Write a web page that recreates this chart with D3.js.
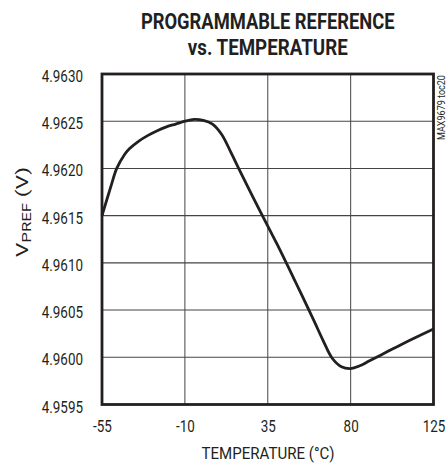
<!DOCTYPE html>
<html>
<head>
<meta charset="utf-8">
<script src="https://cdn.jsdelivr.net/npm/d3@7"></script>
<style>
  html, body { margin: 0; padding: 0; background: #fff; }
  svg { display: block; }
  text { font-family: Roboto, "Liberation Sans", Arial, sans-serif; fill: #231f20; }
</style>
</head>
<body>
<script>
// ---- data ----
const temperatures = [-55, -50, -47, -43, -40, -35, -30, -25, -20, -15, -10, -5, 0, 5, 10, 15, 20, 30, 40, 50, 60, 65, 70, 75, 80, 85, 90, 100, 110, 125];
const vpref = [4.96150, 4.96182, 4.96200, 4.96214, 4.96221, 4.96229, 4.96235, 4.96240, 4.96244, 4.96247, 4.96250, 4.96252, 4.96251, 4.96247, 4.96236, 4.96217, 4.96197, 4.96158, 4.96120, 4.96080, 4.96039, 4.96018, 4.95999, 4.95990, 4.95988, 4.95991, 4.95996, 4.96006, 4.96016, 4.96030];
const xTicks = [-55, -10, 35, 80, 125];
const yTicks = [4.9595, 4.9600, 4.9605, 4.9610, 4.9615, 4.9620, 4.9625, 4.9630];
const titleLines = ["PROGRAMMABLE REFERENCE", "vs. TEMPERATURE"];
const xTitle = "TEMPERATURE (°C)";
const yTitleMain = "V";
const yTitleSub = "PREF";
const yTitleTail = " (V)";
const sideNote = "MAX9679 toc20";

// ---- layout ----
const W = 448, H = 463;
const plot = { left: 102, right: 433.5, top: 74, bottom: 404.5 };

const svg = d3.select("body").append("svg").attr("width", W).attr("height", H);

const x = d3.scaleLinear().domain([-55, 125]).range([plot.left, plot.right]);
const y = d3.scaleLinear().domain([4.9595, 4.9630]).range([plot.bottom, plot.top]);

// grid
const grid = svg.append("g");
grid.selectAll("line.v").data(xTicks.slice(1, -1)).enter().append("line")
  .attr("x1", d => x(d)).attr("x2", d => x(d))
  .attr("y1", plot.top).attr("y2", plot.bottom)
  .attr("stroke", "#555").attr("stroke-width", 1.1);
grid.selectAll("line.h").data(yTicks.slice(1, -1)).enter().append("line")
  .attr("x1", plot.left).attr("x2", plot.right)
  .attr("y1", d => y(d)).attr("y2", d => y(d))
  .attr("stroke", "#444").attr("stroke-width", 1.1);

// curve
const data = temperatures.map((t, i) => [t, vpref[i]]);
const line = d3.line().x(d => x(d[0])).y(d => y(d[1])).curve(d3.curveCatmullRom.alpha(0.5));
svg.append("path").datum(data).attr("d", line)
  .attr("fill", "none").attr("stroke", "#231f20").attr("stroke-width", 2.8)
  .attr("stroke-linejoin", "round");

// frame
svg.append("rect")
  .attr("x", plot.left).attr("y", plot.top)
  .attr("width", plot.right - plot.left).attr("height", plot.bottom - plot.top)
  .attr("fill", "none").attr("stroke", "#231f20").attr("stroke-width", 2.8);

// condensed text helper: place text at (px,py) and squeeze horizontally to a target width
function condensed(sel, px, py, target, anchor, rot) {
  const len = sel.node().getComputedTextLength();
  const k = target / len;
  sel.attr("x", 0).attr("y", 0).attr("text-anchor", anchor)
    .attr("transform", `translate(${px},${py})${rot ? ` rotate(${rot})` : ""} scale(${k},1)`);
}

// axes via d3 axis generators (labels only)
const sx = 0.84;
const yAxis = d3.axisLeft(y).tickValues(yTicks).tickFormat(d3.format(".4f")).tickSize(0).tickPadding(0);
const gy = svg.append("g").attr("transform", `translate(${plot.left - 19},0)`).call(yAxis);
gy.select(".domain").remove();
gy.selectAll("text")
  .attr("x", 0).attr("dy", null).attr("y", 0)
  .attr("transform", `translate(0,7.5) scale(${sx},1)`)
  .style("font-size", "16px").style("font-weight", 400).attr("fill", "#2a2a2a");

const xAxis = d3.axisBottom(x).tickValues(xTicks).tickFormat(d => d < 0 ? "-" + Math.abs(d) : d).tickSize(0).tickPadding(0);
const gx = svg.append("g").attr("transform", `translate(0,${plot.bottom})`).call(xAxis);
gx.select(".domain").remove();
gx.selectAll("text")
  .attr("y", 0).attr("dy", null)
  .attr("transform", `translate(0,27.5) scale(${sx},1)`)
  .style("font-size", "16px").style("font-weight", 400).attr("fill", "#2a2a2a");

// title
const cx = (plot.left + plot.right) / 2;
condensed(svg.append("text").style("font-size", "22.5px").style("font-weight", 700).text(titleLines[0]), cx, 29.3, 254, "middle");
condensed(svg.append("text").style("font-size", "22.5px").style("font-weight", 700).text(titleLines[1]), cx, 55, 160, "middle");

// x title
condensed(svg.append("text").style("font-size", "16px").style("font-weight", 400).attr("fill", "#2a2a2a").text(xTitle), 268, 459, 133, "middle");

// y title
const yt = svg.append("text").style("font-size", "16px").style("font-weight", 400).attr("fill", "#2a2a2a");
yt.append("tspan").text(yTitleMain);
yt.append("tspan").attr("dy", 3).style("font-size", "12px").text(yTitleSub);
yt.append("tspan").attr("dy", -3).text(yTitleTail);
condensed(yt, 28, 212, 90, "middle", -90);

// side note
condensed(svg.append("text").style("font-size", "10px").style("font-weight", 400).attr("fill", "#2a2a2a").text(sideNote), 445, 140, 65, "start", -90);
</script>
</body>
</html>
